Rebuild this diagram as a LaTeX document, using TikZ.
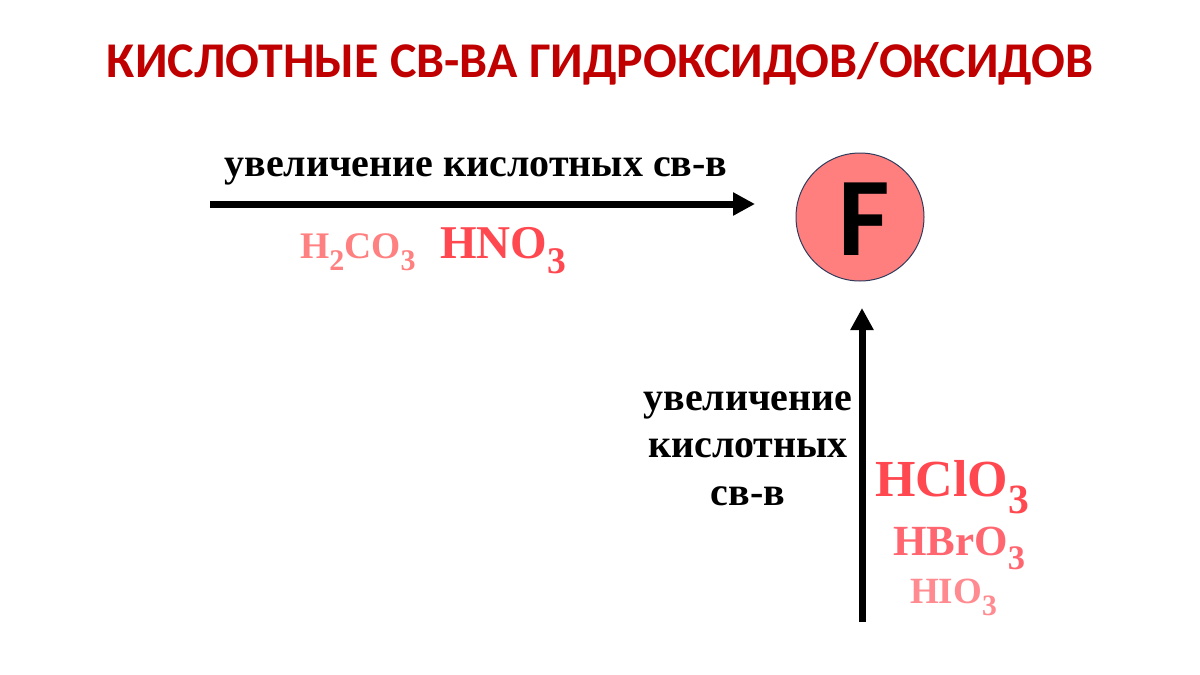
\documentclass[tikz,border=0pt]{standalone}
\usepackage{fontspec}
\usepackage{graphicx}
\setmainfont{Liberation Serif}
\newfontfamily\titlefont{Carlito}
\usetikzlibrary{arrows.meta}
\definecolor{titlered}{HTML}{C00000}
\definecolor{circfill}{HTML}{FF7F7F}
\definecolor{circline}{HTML}{2F3B5C}
\definecolor{acidA}{HTML}{FF4850}
\definecolor{acidB}{HTML}{FF6670}
\definecolor{acidC}{HTML}{FF8A90}
\definecolor{acidD}{HTML}{FF8080}
\newcommand\chsub[1]{\raisebox{-0.33em}{\scalebox{0.8}{#1}}}
\tikzset{
  bigarrow/.style={line width=7pt,-{Triangle[length=22pt,width=22pt]}},
  lbl/.style={inner sep=0pt,anchor=base,font=\bfseries},
  formula/.style={inner sep=0pt,anchor=base west},
}
\begin{document}
\begin{tikzpicture}[x=1pt,y=-1pt]
\useasboundingbox[fill=white] (0,0) rectangle (1200,675);
% title
\node[inner sep=0pt,anchor=base,text=titlered,font=\titlefont\bfseries\fontsize{50}{56}\selectfont] (title) at (600,77) {КИСЛОТНЫЕ СВ-ВА ГИДРОКСИДОВ/ОКСИДОВ};
% circle F
\node[circle,draw=circline,line width=1pt,fill=circfill,minimum size=128pt,inner sep=0pt] (F) at (860,217) {};
\node[inner sep=0pt,font=\titlefont\bfseries\fontsize{112}{118}\selectfont] (Fl) at (864,219) {F};
% horizontal arrow
\coordinate (hs) at (210,204);
\coordinate (he) at (755,204);
\draw[bigarrow] (hs) -- (he);
\node[lbl,font=\bfseries\fontsize{40}{46}\selectfont] (htext) at (476,176) {увеличение кислотных св-в};
\node[formula,text=acidD,font=\bfseries\fontsize{37.5}{44}\selectfont] (h2co3) at (300,258) {H\chsub{2}CO\chsub{3}};
\node[formula,text=acidA,font=\bfseries\fontsize{47}{54}\selectfont] (hno3) at (440,258) {HNO\chsub{3}};
% vertical arrow
\coordinate (vs) at (862,622);
\coordinate (ve) at (862,308);
\draw[bigarrow] (vs) -- (ve);
\node[lbl,font=\bfseries\fontsize{40}{47}\selectfont] (v1) at (748,410) {увеличение};
\node[lbl,font=\bfseries\fontsize{40}{47}\selectfont] (v2) at (748,457) {кислотных};
\node[lbl,font=\bfseries\fontsize{40}{47}\selectfont] (v3) at (748,505) {св-в};
\node[formula,text=acidA,font=\bfseries\fontsize{52}{58}\selectfont] (hclo3) at (875,496) {HClO\chsub{3}};
\node[formula,text=acidB,font=\bfseries\fontsize{43}{48}\selectfont] (hbro3) at (893,555) {HBrO\chsub{3}};
\node[formula,text=acidC,font=\bfseries\fontsize{37}{44}\selectfont] (hio3) at (910,603) {HIO\chsub{3}};
\end{tikzpicture}
\end{document}
